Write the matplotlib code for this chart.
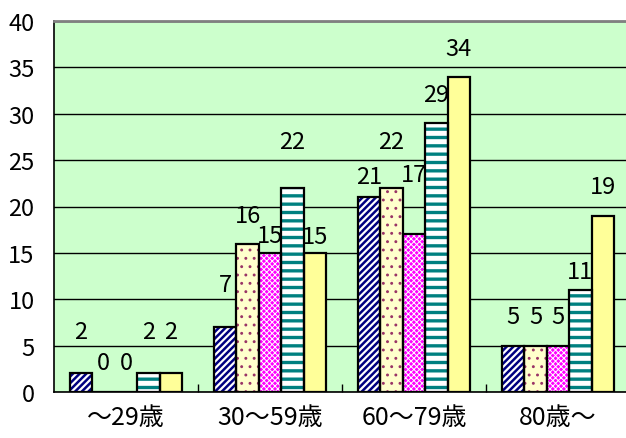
import matplotlib
matplotlib.use("Agg")
import matplotlib.pyplot as plt
import numpy as np

plt.rcParams['font.family'] = ['Noto Sans CJK JP', 'DejaVu Sans']

categories = ["～29歳", "30～59歳", "60～79歳", "80歳～"]
series_1 = [2, 7, 21, 5]
series_2 = [0, 16, 22, 5]
series_3 = [0, 15, 17, 5]
series_4 = [2, 22, 29, 11]
series_5 = [2, 15, 34, 19]
values = [series_1, series_2, series_3, series_4, series_5]

# label offset above bar top (pixels), per series, per group
label_px = [
    [42, 43, 21, 29],
    [29, 28, 46, 29],
    [29, 17, 60, 29],
    [42, 46, 29, 18],
    [42, 16, 28, 29],
]

faces = ["white", "#FFFFCC", "#FF00FF", "white", "#FFFF99"]
hatches = ["/////", "..", "xxxxxx", "--", None]
hatch_cols = ["#000080", "#993366", "white", "#008080", None]
hatch_lws = [1.8, 0.9, 0.7, 2.4, 1.0]

fig = plt.figure(figsize=(6.26, 4.39), dpi=100)
ax = fig.add_axes([54 / 626, 46 / 439, 576 / 626, 371 / 439])
ax.set_facecolor("#CCFFCC")

x = np.arange(len(categories))
w = 0.156
for i, vals in enumerate(values):
    pos = x + (i - 2) * w
    if hatches[i]:
        with plt.rc_context({'hatch.linewidth': hatch_lws[i]}):
            bars = ax.bar(pos, vals, w, color=faces[i], edgecolor=hatch_cols[i],
                          hatch=hatches[i], linewidth=0, zorder=3)
        for b in bars:
            if hasattr(b, "set_hatch_linewidth"):
                b.set_hatch_linewidth(hatch_lws[i])
    else:
        ax.bar(pos, vals, w, color=faces[i], linewidth=0, zorder=3)
    ax.bar(pos, vals, w, facecolor="none", edgecolor="black",
           linewidth=1.6, zorder=4)
    for j, v in enumerate(vals):
        ax.annotate(str(v), (pos[j], v), xytext=(0, label_px[i][j] * 0.72),
                    textcoords="offset points", ha="center", va="center",
                    fontsize=17, zorder=2)

ax.set_xlim(-0.5, 3.5)
ax.set_ylim(0, 40)
ax.set_yticks(range(0, 41, 5))
ax.yaxis.grid(True, color="black", linewidth=1.0, zorder=1)
ax.set_axisbelow(True)
ax.tick_params(axis="y", length=0, pad=14, labelsize=17)
ax.set_xticks(x)
ax.set_xticklabels(categories)
ax.tick_params(axis="x", length=0, pad=9, labelsize=18)
ax.set_xticks([0.5, 1.5, 2.5], minor=True)
ax.tick_params(axis="x", which="minor", direction="in", length=6, width=1)

ax.spines["top"].set_color("#808080")
ax.spines["top"].set_linewidth(2)
ax.spines["left"].set_linewidth(1.2)
ax.spines["bottom"].set_linewidth(1.2)
ax.spines["right"].set_visible(False)

fig.savefig("out.png", dpi=100)
